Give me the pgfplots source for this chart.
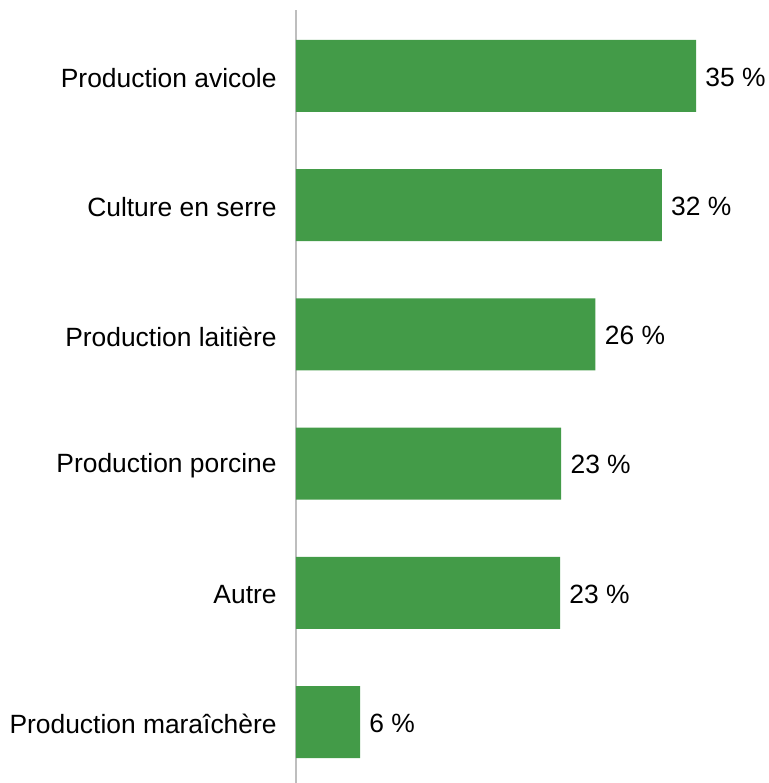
\documentclass[border=0pt]{standalone}
\usepackage{pgfplots}
\pgfplotsset{compat=1.18}
\usepackage{pgfplotstable}
\usepackage{fontspec}
\setmainfont{Liberation Sans}
\definecolor{bargreen}{RGB}{67,155,72}
\definecolor{axgray}{RGB}{190,190,190}
\pgfplotstableread[col sep=comma]{
y,x,lab
0,5.6,6 \%
1,23.1,23 \%
2,23.2,23 \%
3,26.2,26 \%
4,32.0,32 \%
5,35.0,35 \%
}\datatab
\begin{document}
\begin{tikzpicture}
\useasboundingbox (-148bp,0) rectangle (236.5bp,391.5bp);
\begin{axis}[
  scale only axis,
  width=228.6bp, height=386.5bp,
  xmin=0, xmax=40,
  ymin=-0.47, ymax=5.51,
  xbar, bar width=36bp,
  axis x line=none,
  axis y line*=left,
  y axis line style={axgray, line width=1bp},
  ytick={0,1,2,3,4,5},
  yticklabels={Production maraîchère, Autre, Production porcine, Production laitière, Culture en serre, Production avicole},
  major tick length=0pt,
  yticklabel style={font=\fontsize{13.2bp}{15bp}\selectfont, inner sep=0pt, xshift=-9.5bp, yshift=-1bp},
  nodes near coords,
  point meta=explicit symbolic,
  every node near coord/.append style={font=\fontsize{13.2bp}{15bp}\selectfont, anchor=west, inner sep=0pt, xshift=4.5bp, yshift=-0.5bp},
  clip=false,
]
\addplot[fill=bargreen, draw=none, bar shift=0pt] table[x=x, y=y, meta=lab] {\datatab};
\end{axis}
\end{tikzpicture}
\end{document}
